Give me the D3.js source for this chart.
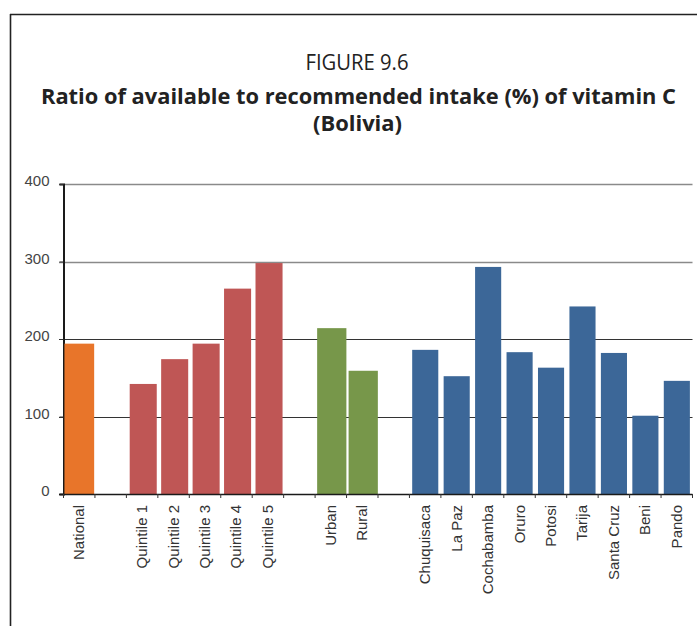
<!DOCTYPE html>
<html>
<head>
<meta charset="utf-8">
<script src="https://cdn.jsdelivr.net/npm/d3@7"></script>
<style>
  html, body { margin: 0; padding: 0; background: #fff; }
  svg { display: block; }
</style>
</head>
<body>
<div id="chart"></div>
<script>
// ---------------- Data ----------------
const nationalCats = ["National"];
const nationalVals = [194];
const quintileCats = ["Quintile 1", "Quintile 2", "Quintile 3", "Quintile 4", "Quintile 5"];
const quintileVals = [142, 174, 194, 265, 298];
const areaCats = ["Urban", "Rural"];
const areaVals = [214, 159];
const deptCats = ["Chuquisaca", "La Paz", "Cochabamba", "Oruro", "Potosi", "Tarija", "Santa Cruz", "Beni", "Pando"];
const deptVals = [186, 152, 293, 183, 163, 242, 182, 101, 146];
const yTicks = [0, 100, 200, 300, 400];

const titleLine1 = "FIGURE 9.6";
const titleLine2 = "Ratio of available to recommended intake (%) of vitamin C";
const titleLine3 = "(Bolivia)";

// ---------------- Styles per group ----------------
const groups = [
  { key: "national", cats: nationalCats, vals: nationalVals, color: "#E8752A", off: 0.03,  w: 0.945 },
  { key: "quintile", cats: quintileCats, vals: quintileVals, color: "#BF5655", off: 0.105, w: 0.86 },
  { key: "area",     cats: areaCats,     vals: areaVals,     color: "#77974A", off: 0.065, w: 0.93 },
  { key: "dept",     cats: deptCats,     vals: deptVals,     color: "#3C6798", off: 0.087, w: 0.83 }
];

// Slots: categories with an empty gap slot between groups
const slots = [];
const bars = [];
groups.forEach((g, gi) => {
  if (gi > 0) slots.push("__gap" + gi);
  g.cats.forEach((c, i) => {
    slots.push(c);
    bars.push({ cat: c, value: g.vals[i], group: g });
  });
});

// ---------------- Layout ----------------
const W = 697, H = 627;
const svg = d3.select("#chart").append("svg").attr("width", W).attr("height", H);

// frame
svg.append("line").attr("x1", 10).attr("x2", W).attr("y1", 14.5).attr("y2", 14.5)
  .attr("stroke", "#222").attr("stroke-width", 1.6);
svg.append("line").attr("x1", 10.5).attr("x2", 10.5).attr("y1", 14).attr("y2", 626)
  .attr("stroke", "#222").attr("stroke-width", 1.6);

// titles
const titleFont = "'Open Sans', 'DejaVu Sans', sans-serif";
svg.append("text").attr("x", 357).attr("y", 70).attr("text-anchor", "middle")
  .attr("font-family", titleFont).attr("font-size", 21).attr("fill", "#222")
  .attr("textLength", 103).attr("lengthAdjust", "spacingAndGlyphs").text(titleLine1);
svg.append("text").attr("x", 358.5).attr("y", 104).attr("text-anchor", "middle")
  .attr("font-family", titleFont).attr("font-weight", "bold").attr("font-size", 22).attr("fill", "#222")
  .attr("textLength", 635).attr("lengthAdjust", "spacingAndGlyphs").text(titleLine2);
svg.append("text").attr("x", 357.5).attr("y", 131).attr("text-anchor", "middle")
  .attr("font-family", titleFont).attr("font-weight", "bold").attr("font-size", 22).attr("fill", "#222")
  .attr("textLength", 89).attr("lengthAdjust", "spacingAndGlyphs").text(titleLine3);

// scales
const x = d3.scaleBand().domain(slots).range([63.5, 692.5]).paddingInner(0).paddingOuter(0);
const y = d3.scaleLinear().domain([0, 400]).range([494, 184]);

const axisFont = "'Liberation Sans', Arial, sans-serif";

// gridlines
svg.append("g").selectAll("line").data(yTicks.filter(d => d > 0)).join("line")
  .attr("x1", 59).attr("x2", 692.5)
  .attr("y1", d => Math.round(y(d)) + 0.5).attr("y2", d => Math.round(y(d)) + 0.5)
  .attr("stroke", d => d >= 300 ? "#8a8a8a" : "#333")
  .attr("stroke-width", d => d >= 300 ? 1.5 : 1);

// y axis
const yAxis = d3.axisLeft(y).tickValues(yTicks).tickSize(4).tickPadding(10);
const yg = svg.append("g").attr("transform", "translate(63.5,0)").call(yAxis);
yg.select(".domain").attr("stroke", "#1a1a1a").attr("stroke-width", 2);
yg.selectAll(".tick line").attr("stroke", "#333");
yg.selectAll(".tick text").attr("font-family", axisFont).attr("font-size", 15)
  .attr("fill", "#444").attr("dy", "0.1em");

// bars
svg.append("g").selectAll("rect").data(bars).join("rect")
  .attr("x", d => x(d.cat) + x.bandwidth() * d.group.off)
  .attr("width", d => x.bandwidth() * d.group.w)
  .attr("y", d => y(d.value))
  .attr("height", d => y(0) - y(d.value))
  .attr("fill", d => d.group.color);

// x axis baseline with ticks at slot boundaries
const boundaries = slots.map(s => x(s)).concat([x.range()[1]]);
svg.append("line").attr("x1", 59).attr("x2", 692.5).attr("y1", 494.5).attr("y2", 494.5)
  .attr("stroke", "#1a1a1a").attr("stroke-width", 1.5);
svg.append("g").selectAll("line").data(boundaries).join("line")
  .attr("x1", d => d).attr("x2", d => d).attr("y1", 494).attr("y2", 498)
  .attr("stroke", "#333").attr("stroke-width", 1);

// x labels
svg.append("g").selectAll("text").data(bars).join("text")
  .attr("transform", d => `translate(${x(d.cat) + x.bandwidth() / 2 + 5},505) rotate(-90)`)
  .attr("text-anchor", "end")
  .attr("font-family", axisFont).attr("font-size", 15).attr("fill", "#333")
  .text(d => d.cat);
</script>
</body>
</html>
